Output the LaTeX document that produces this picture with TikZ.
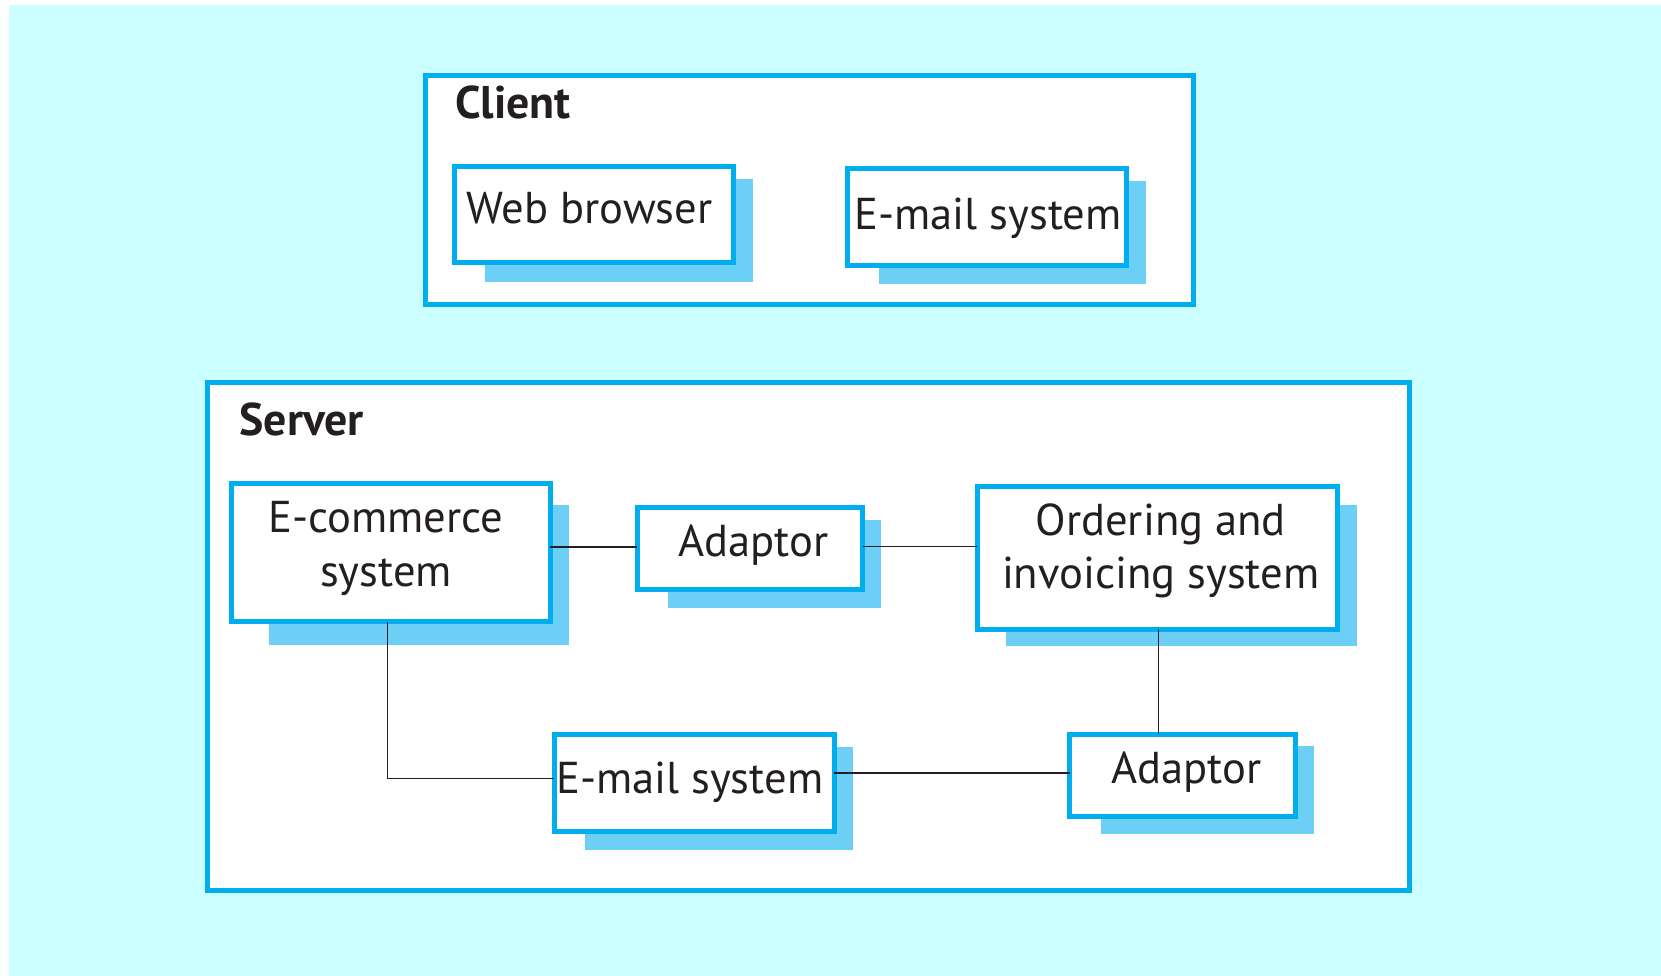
\documentclass[tikz,border=0pt]{standalone}
\usepackage{fontspec}
\setmainfont{PT Sans}
\definecolor{bgcyan}{HTML}{CCFFFF}
\definecolor{edgeblue}{HTML}{00AEEF}
\definecolor{shadowblue}{HTML}{6DCFF6}
\definecolor{inkblack}{HTML}{231F20}
\tikzset{
  frame/.style={draw=edgeblue, line width=5pt, fill=white, rectangle, inner sep=0pt, outer sep=0pt},
  shadowbox/.style={fill=shadowblue, draw=none},
  lbl/.style={inner sep=0pt, outer sep=0pt, anchor=base, text=inkblack, font=\fontsize{44.6}{53}\selectfont},
  title/.style={inner sep=0pt, outer sep=0pt, anchor=base west, text=inkblack, font=\fontsize{45.8}{53}\selectfont\bfseries},
  link/.style={draw=inkblack, line width=1.1pt},
  thicklink/.style={draw=inkblack, line width=2.3pt}
}
% box from outer edges: x1,y1,x2,y2
\newcommand{\mybox}[5]{%
  \node[frame, minimum width={#4-#2-5}, minimum height={#5-#3-5}] (#1) at ({(#2+#4)/2},{(#3+#5)/2}) {};}
\begin{document}
\begin{tikzpicture}[x=1pt,y=-1pt]
\useasboundingbox (0,0) rectangle (1661,976);
\fill[white] (0,0) rectangle (1661,976);
\fill[bgcyan] (9,5) rectangle (1661,976);

% containers
\mybox{client}{423}{73}{1196}{307}
\mybox{server}{204.5}{380}{1412}{893}
\node[title] (clientT) at (455,118.5) {Client};
\node[title] (serverT) at (239.5,435.5) {Server};

% shadows
\fill[shadowbox] (485,179.5) rectangle (752.5,282);
\fill[shadowbox] (878.5,181) rectangle (1146,284);
\fill[shadowbox] (269,505) rectangle (569,645);
\fill[shadowbox] (668,520) rectangle (881,607.5);
\fill[shadowbox] (1005.5,504.5) rectangle (1356.5,645.5);
\fill[shadowbox] (1101,746) rectangle (1313.5,834);
\fill[shadowbox] (585,746.5) rectangle (853,850);

% component boxes
\mybox{web}{452}{164.5}{736}{265}
\mybox{emailc}{845}{166}{1129}{268}
\mybox{ecom}{229}{481}{552.5}{624}
\mybox{adapta}{634.5}{504.5}{865}{592}
\mybox{order}{974.5}{484}{1339.5}{631.5}
\mybox{adaptb}{1067}{731.5}{1297.5}{818.5}
\mybox{emails}{551.5}{731.5}{836.5}{833.5}

% labels
\node[lbl] (webT) at (589.5,223.5) {Web browser};
\node[lbl] (emailcT) at (988,230) {E-mail system};
\node[lbl] (ecomT1) at (386,532.5) {E-commerce};
\node[lbl] (ecomT2) at (386,586) {system};
\node[lbl] (adaptaT) at (753.5,556.7) {Adaptor};
\node[lbl] (orderT1) at (1160.7,535) {Ordering and};
\node[lbl] (orderT2) at (1160.7,588.3) {invoicing system};
\node[lbl] (adaptbT) at (1186.5,783.3) {Adaptor};
\node[lbl] (emailsT) at (689.7,793.3) {E-mail system};

% connectors
\coordinate (ya) at (0,546.7);
\coordinate (xb) at (1158.5,0);
\coordinate (yc) at (0,773);
\coordinate (bend) at (387.5,778.5);
\draw[thicklink] (ecom.east |- ya) -- (adapta.west |- ya);
\draw[link] (adapta.east |- ya) -- (order.west |- ya);
\draw[link] (order.south -| xb) -- (adaptb.north -| xb);
\draw[link] (emails.east |- yc) -- (adaptb.west |- yc);
\draw[link] (ecom.south -| bend) -- (bend) -- (emails.west |- bend);
\end{tikzpicture}
\end{document}
